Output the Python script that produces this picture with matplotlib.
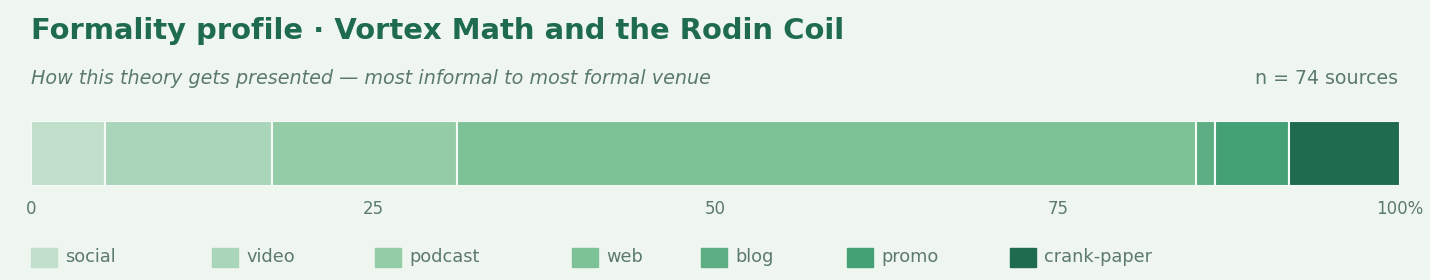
import matplotlib.pyplot as plt
import matplotlib.patches as mpatches

venues = ['social', 'video', 'podcast', 'web', 'blog', 'promo', 'crank-paper']
counts = [4, 9, 10, 40, 1, 4, 6]
colors = ['#c0e0cc', '#a9d5ba', '#94cca8', '#7dc296', '#5eae84', '#44a075', '#1e6b50']
tick_vals = [0, 25, 50, 75, 100]
tick_labels = ['0', '25', '50', '75', '100%']

bg = '#eff6f0'
muted = '#5b7a6b'
W, H = 1430, 280

fig = plt.figure(figsize=(W / 100, H / 100), dpi=100, facecolor=bg)
ax = fig.add_axes([31 / W, 1 - 186 / H, (1400 - 31) / W, 65 / H])
ax.set_facecolor(bg)

total = sum(counts)
left = 0
for name, c, col in zip(venues, counts, colors):
    pct = c / total * 100
    ax.barh(0, pct, left=left, height=1, color=col, edgecolor='#f4faf5', linewidth=1.5)
    left += pct

ax.set_xlim(0, 100)
ax.set_ylim(-0.5, 0.5)
ax.set_yticks([])
ax.set_xticks(tick_vals)
ax.set_xticklabels(tick_labels)
ax.tick_params(axis='x', length=0, pad=10, labelsize=12, labelcolor=muted)
for s in ax.spines.values():
    s.set_visible(False)

fig.text(31 / W, 1 - 31 / H, 'Formality profile · Vortex Math and the Rodin Coil',
         fontsize=20.9, fontweight='bold', color='#1e6b50', va='center')
fig.text(31 / W, 1 - 78 / H, 'How this theory gets presented — most informal to most formal venue',
         fontsize=13.8, style='italic', color=muted, va='center')
fig.text(1398 / W, 1 - 78 / H, 'n = 74 sources', fontsize=13.7, color=muted, va='center', ha='right')

# legend row
legend_x = [31, 212, 375, 572, 701, 847, 1010]
for x, name, col in zip(legend_x, venues, colors):
    fig.patches.append(mpatches.Rectangle((x / W, 1 - 267 / H), 26 / W, 19 / H,
                                          transform=fig.transFigure, color=col))
    fig.text((x + 34) / W, 1 - 257 / H, name, fontsize=12.8, color=muted, va='center')

plt.savefig('out.png', dpi=100, facecolor=bg)
